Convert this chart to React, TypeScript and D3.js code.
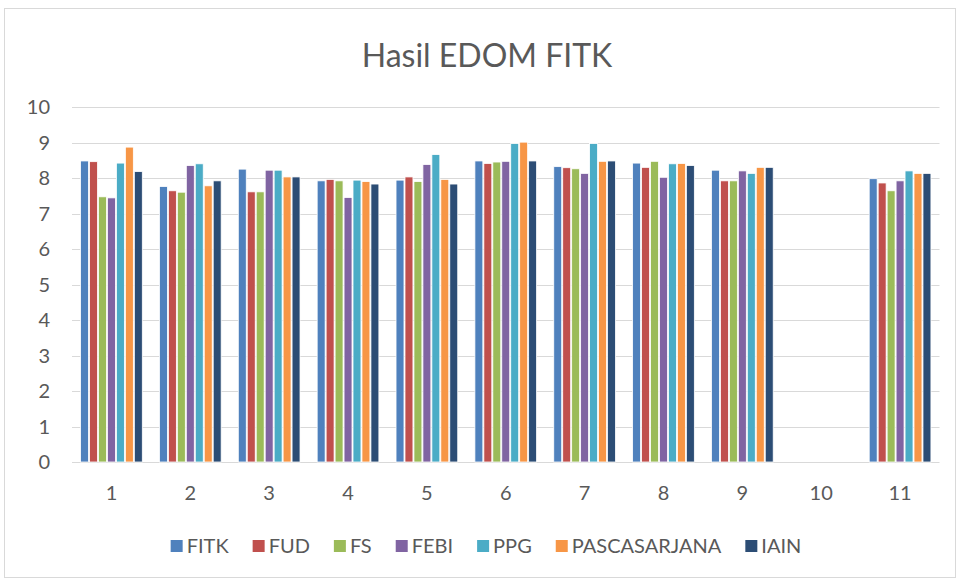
import * as d3 from "d3";
import React, { useEffect, useRef } from "react";

const categories = ["1", "2", "3", "4", "5", "6", "7", "8", "9", "10", "11"];
const seriesNames = ["FITK", "FUD", "FS", "FEBI", "PPG", "PASCASARJANA", "IAIN"];
const seriesColors = ["#4F81BD", "#C0504D", "#9BBB59", "#8064A2", "#4BACC6", "#F79646", "#2C4D75"];

// one array per series, null = no data (category 10)
const fitk = [8.48, 7.76, 8.25, 7.92, 7.94, 8.48, 8.32, 8.42, 8.22, null, 7.98];
const fud = [8.46, 7.64, 7.61, 7.96, 8.03, 8.41, 8.29, 8.3, 7.92, null, 7.86];
const fs = [7.47, 7.6, 7.61, 7.92, 7.9, 8.45, 8.26, 8.47, 7.92, null, 7.64];
const febi = [7.44, 8.35, 8.22, 7.45, 8.38, 8.47, 8.13, 8.02, 8.2, null, 7.92];
const ppg = [8.42, 8.4, 8.22, 7.94, 8.66, 8.97, 8.97, 8.4, 8.13, null, 8.2];
const pasca = [8.87, 7.78, 8.03, 7.9, 7.96, 9.01, 8.47, 8.41, 8.3, null, 8.13];
const iain = [8.18, 7.92, 8.03, 7.83, 7.83, 8.48, 8.48, 8.35, 8.3, null, 8.13];

const seriesValues = [fitk, fud, fs, febi, ppg, pasca, iain];
const yTicks = [0, 1, 2, 3, 4, 5, 6, 7, 8, 9, 10];

const W = 957;
const H = 579;
const font = "Lato, 'Open Sans', sans-serif";
const textColor = "#595959";

const App: React.FC = () => {
  const svgRef = useRef<SVGSVGElement | null>(null);

  useEffect(() => {
    const svg = d3.select(svgRef.current);
    svg.selectAll("*").remove();

    const left = 72;
    const right = 939.5;
    const top = 107;
    const bottom = 462;

    const x = d3.scaleBand().domain(categories).range([left, right]);
    const slotW = 8.96;
    const xs = d3
      .scaleBand()
      .domain(seriesNames)
      .range([0, slotW * seriesNames.length]);
    const y = d3.scaleLinear().domain([0, 10]).range([bottom, top]);

    // chart border
    svg
      .append("rect")
      .attr("x", 4.5)
      .attr("y", 8.5)
      .attr("width", W - 6)
      .attr("height", H - 10)
      .attr("fill", "white")
      .attr("stroke", "#d9d9d9");

    svg
      .append("text")
      .attr("x", 487)
      .attr("y", 67)
      .attr("text-anchor", "middle")
      .attr("font-family", font)
      .attr("font-size", 32)
      .attr("fill", textColor)
      .text("Hasil EDOM FITK");

    // gridlines
    svg
      .append("g")
      .selectAll("line")
      .data(yTicks)
      .join("line")
      .attr("x1", left)
      .attr("x2", right)
      .attr("y1", (d) => Math.round(y(d)) + 0.5)
      .attr("y2", (d) => Math.round(y(d)) + 0.5)
      .attr("stroke", "#d9d9d9")
      .attr("stroke-width", 1.2);

    svg
      .append("g")
      .selectAll("text")
      .data(yTicks)
      .join("text")
      .attr("x", 50)
      .attr("y", (d) => y(d))
      .attr("dy", "0.36em")
      .attr("text-anchor", "end")
      .attr("font-family", font)
      .attr("font-size", 20)
      .attr("fill", textColor)
      .text((d) => d);

    svg
      .append("g")
      .selectAll("text")
      .data(categories)
      .join("text")
      .attr("x", (d) => x(d)! + x.bandwidth() / 2)
      .attr("y", 500)
      .attr("text-anchor", "middle")
      .attr("font-family", font)
      .attr("font-size", 20)
      .attr("fill", textColor)
      .text((d) => d);

    // bars
    const groupOffset = (x.bandwidth() - xs.range()[1]) / 2;
    seriesNames.forEach((name, si) => {
      svg
        .append("g")
        .selectAll("rect")
        .data(categories.map((c, i) => ({ c, v: seriesValues[si][i] })).filter((d) => d.v != null))
        .join("rect")
        .attr("x", (d) => x(d.c)! + groupOffset + xs(name)! + 0.5)
        .attr("width", xs.bandwidth() - 1)
        .attr("y", (d) => y(d.v as number))
        .attr("height", (d) => bottom - y(d.v as number))
        .attr("fill", seriesColors[si])
        .attr("stroke", "white")
        .attr("stroke-width", 0.8);
    });

    // legend
    const legend = svg.append("g").attr("transform", "translate(0,546)");
    const items = legend
      .selectAll("g")
      .data(seriesNames)
      .join("g");
    items
      .append("rect")
      .attr("y", -6)
      .attr("width", 12)
      .attr("height", 12)
      .attr("fill", (_, i) => seriesColors[i]);
    const labels = items
      .append("text")
      .attr("x", 16)
      .attr("dy", "0.36em")
      .attr("font-family", font)
      .attr("font-size", 20)
      .attr("fill", textColor)
      .text((d) => d);
    const gap = 24;
    const widths = labels.nodes().map((n) => 16 + (n as SVGTextElement).getComputedTextLength() + gap);
    const total = d3.sum(widths) - gap;
    let cx = 486 - total / 2;
    items.attr("transform", (_, i) => {
      const t = `translate(${cx},0)`;
      cx += widths[i];
      return t;
    });

    svg.attr("width", W).attr("height", H);
  }, []);

  return (
    <svg
      ref={svgRef}
      style={{ position: "absolute", left: 0, top: 0, background: "white" }}
      width={W}
      height={H}
    />
  );
};

export default App;
